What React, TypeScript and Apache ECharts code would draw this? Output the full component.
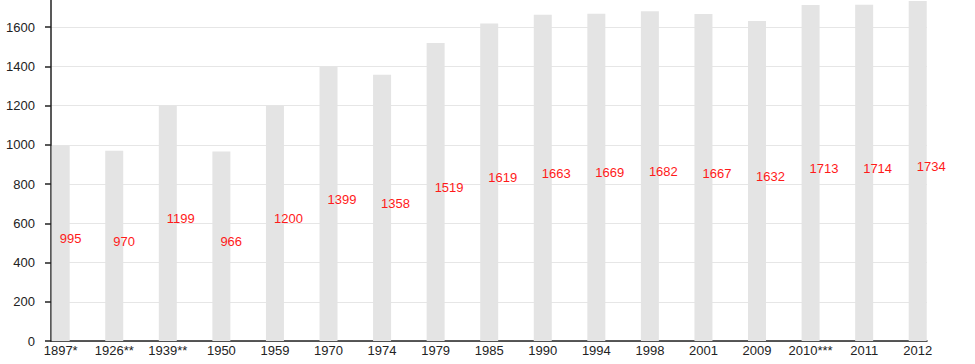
import React, { useEffect, useRef } from "react";
import * as echarts from "echarts";

const categories = [
  "1897*", "1926**", "1939**", "1950", "1959", "1970", "1974", "1979", "1985",
  "1990", "1994", "1998", "2001", "2009", "2010***", "2011", "2012",
];
const population = [
  995, 970, 1199, 966, 1200, 1399, 1358, 1519, 1619, 1663, 1669, 1682, 1667,
  1632, 1713, 1714, 1734,
];
const yTicks = { min: 0, max: 1800, interval: 200 };

const FONT = "'Liberation Sans', Arial, Helvetica, sans-serif";
const SHIFT = 12.25;

export default function App() {
  const ref = useRef<HTMLDivElement>(null);
  useEffect(() => {
    if (!ref.current) return;
    const chart = echarts.init(ref.current, null, { renderer: "svg" });
    const top = 0;
    const bottom = 23;
    chart.setOption({
      animation: false,
      backgroundColor: "#ffffff",
      textStyle: { fontFamily: FONT },
      grid: [
        { left: 51, right: 48, top, bottom, containLabel: false },
        { left: 33.9, right: 30.5, top, bottom, containLabel: false },
      ],
      xAxis: [
        {
          type: "category",
          gridIndex: 0,
          data: categories,
          axisLine: { show: true, lineStyle: { color: "#222", width: 1.5 } },
          axisTick: { show: false },
          axisLabel: { show: false },
          splitLine: { show: false },
        },
        {
          type: "category",
          gridIndex: 1,
          data: categories,
          axisLine: { show: false },
          axisTick: { show: false },
          axisLabel: {
            show: true,
            color: "#222",
            fontSize: 13,
            fontFamily: FONT,
            margin: 3,
            interval: 0,
          },
          splitLine: { show: false },
        },
      ],
      yAxis: [
        {
          type: "value",
          gridIndex: 0,
          min: yTicks.min,
          max: yTicks.max,
          interval: yTicks.interval,
          axisLine: { show: true, lineStyle: { color: "#222", width: 1.5 } },
          axisTick: { show: true, length: 6, lineStyle: { color: "#222", width: 1.5 } },
          axisLabel: {
            color: "#222",
            fontSize: 13,
            fontFamily: FONT,
            margin: 16,
            showMaxLabel: false,
            formatter: (v: number) => String(v),
          },
          splitLine: { show: true, lineStyle: { color: "#e6e6e6", width: 1 } },
        },
        {
          type: "value",
          gridIndex: 1,
          min: yTicks.min,
          max: yTicks.max,
          interval: yTicks.interval,
          show: false,
        },
      ],
      series: [
        {
          type: "bar",
          xAxisIndex: 1,
          yAxisIndex: 1,
          data: population,
          barWidth: 18,
          itemStyle: { color: "#e4e4e4" },
          label: {
            show: true,
            position: "inside",
            align: "left",
            verticalAlign: "bottom",
            offset: [-1, 2],
            color: "#ff1a1a",
            fontSize: 13,
            fontFamily: FONT,
          },
          z: 1,
        },
      ],
    });
    return () => chart.dispose();
  }, []);
  return (
    <div
      ref={ref}
      style={{
        position: "absolute",
        left: 0,
        top: -SHIFT,
        width: 975,
        height: 364 + SHIFT,
      }}
    />
  );
}
